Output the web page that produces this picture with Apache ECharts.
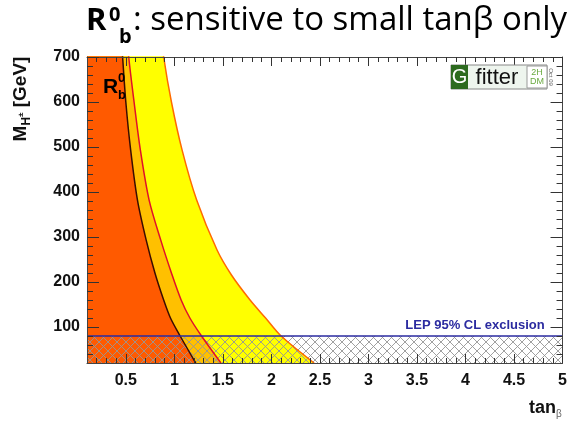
<!DOCTYPE html>
<html><head><meta charset="utf-8">
<script src="https://cdn.jsdelivr.net/npm/echarts@6/dist/echarts.min.js"></script>
<style>html,body{margin:0;padding:0;background:#fff}#c{width:570px;height:422px}</style>
</head><body><div id="c"></div>
<script>
// ---- data (tanβ, M_H± [GeV]) ----
const xRange = [0.1, 5];
const yRange = [20, 700];
const xTickLabels = [0.5, 1, 1.5, 2, 2.5, 3, 3.5, 4, 4.5, 5];
const yTickLabels = [100, 200, 300, 400, 500, 600, 700];
const lepLimit = 80;
// boundary of outer (yellow) region
const contourOuter = [[0.1,760],[0.86,760],[0.89,700],[0.97,600],[1.08,493],[1.23,382],[1.44,271],[1.59,215],[1.78,160],[1.94,120],[2.10,80],[2.44,20]];
// boundary of middle (light orange) region
const contourMid = [[0.1,760],[0.51,760],[0.53,700],[0.585,600],[0.65,493],[0.74,382],[0.86,293],[0.97,220],[1.07,160],[1.16,120],[1.28,80],[1.48,20]];
// boundary of inner (dark orange) region
const contourInner = [[0.1,760],[0.45,760],[0.467,700],[0.50,600],[0.55,493],[0.62,382],[0.71,293],[0.80,220],[0.89,160],[0.96,120],[1.06,80],[1.22,20]];

// minor ticks
const xMinor = [], yMinor = [];
for (let i = 2; i < 50; i++) { if (i % 5 !== 0) xMinor.push(i / 10); }
for (let v = 40; v < 700; v += 20) { if (v % 100 !== 0) yMinor.push(v); }

// hatch pattern
const hc = document.createElement('canvas');
hc.width = 9; hc.height = 9;
const hctx = hc.getContext('2d');
hctx.strokeStyle = 'rgba(150,150,150,0.9)';
hctx.lineWidth = 1;
hctx.beginPath();
hctx.moveTo(0,0); hctx.lineTo(9,9);
hctx.moveTo(9,0); hctx.lineTo(0,9);
hctx.stroke();

const FONT = 'Liberation Sans, Arial, sans-serif';
const axisCol = '#444';

function xAx(pos, major) {
  return {
    type: 'value', position: pos, min: xRange[0], max: xRange[1], z: 10,
    axisLine: { show: major, onZero: false, lineStyle: { color: axisCol, width: 1 } },
    axisTick: { show: true, inside: true, length: major ? 9 : 5, customValues: major ? xTickLabels : xMinor, lineStyle: { color: '#333' } },
    axisLabel: (major && pos === 'bottom') ? { show: true, customValues: xTickLabels, margin: 10, fontSize: 16, fontWeight: 'bold', color: '#111', fontFamily: FONT } : { show: false },
    splitLine: { show: false }
  };
}
function yAx(pos, major) {
  return {
    type: 'value', position: pos, min: yRange[0], max: yRange[1], z: 10,
    axisLine: { show: major, onZero: false, lineStyle: { color: axisCol, width: 1 } },
    axisTick: { show: true, inside: true, length: major ? 12 : 6, customValues: major ? yTickLabels : yMinor, lineStyle: { color: '#333' } },
    axisLabel: (major && pos === 'left') ? { show: true, customValues: yTickLabels, margin: 7, fontSize: 16, fontWeight: 'bold', color: '#111', fontFamily: FONT } : { show: false },
    splitLine: { show: false }
  };
}

// title measurement
const mc = document.createElement('canvas').getContext('2d');
const titleFont = "33px 'Open Sans'";
mc.font = titleFont;
const titleRest = ': sensitive to small tanβ only';
const wRest = mc.measureText(titleRest).width;
const restStart = 567 - wRest;

const chart = echarts.init(document.getElementById('c'), null, { renderer: 'canvas' });
chart.setOption({
  animation: false,
  backgroundColor: '#fff',
  grid: { left: 87, right: 4, top: 57, bottom: 59, containLabel: false },
  xAxis: [xAx('bottom', true), xAx('top', true), xAx('bottom', false), xAx('top', false)],
  yAxis: [yAx('left', true), yAx('right', true), yAx('left', false), yAx('right', false)],
  series: [
    { type: 'line', data: contourOuter, symbol: 'none', smooth: 0.3, clip: true,
      lineStyle: { color: '#ff6a00', width: 1.5 }, areaStyle: { color: '#ffff00', opacity: 1, origin: 'start' } },
    { type: 'line', data: contourMid, symbol: 'none', smooth: 0.3, clip: true,
      lineStyle: { color: '#e0102a', width: 1.5 }, areaStyle: { color: '#ffc000', opacity: 1, origin: 'start' } },
    { type: 'line', data: contourInner, symbol: 'none', smooth: 0.3, clip: true,
      lineStyle: { color: '#3a0c00', width: 1.5 }, areaStyle: { color: '#ff5a00', opacity: 1, origin: 'start' } },
    { type: 'line', data: [[xRange[0], lepLimit], [xRange[1], lepLimit]], symbol: 'none', clip: true,
      lineStyle: { color: '#2b2ba0', width: 1.5 }, areaStyle: { color: { image: hc, repeat: 'repeat' }, opacity: 1, origin: 'start' } }
  ],
  graphic: [
    // title
    { type: 'text', x: 567, y: 21, style: { text: titleRest, font: titleFont, fill: '#000', align: 'right', verticalAlign: 'middle' } },
    { type: 'text', x: restStart - 47, y: 21, style: { text: 'R', font: "bold 31px 'Open Sans'", fill: '#000', align: 'left', verticalAlign: 'middle' } },
    { type: 'text', x: restStart - 24, y: 15, style: { text: '0', font: "bold 20px 'Open Sans'", fill: '#000', align: 'left', verticalAlign: 'middle' } },
    { type: 'text', x: restStart - 14, y: 37, style: { text: 'b', font: "bold 20px 'Open Sans'", fill: '#000', align: 'left', verticalAlign: 'middle' } },
    // in-plot label
    { type: 'text', x: 103, y: 87, z: 20, style: { text: 'R', font: 'bold 21px ' + FONT, fill: '#000', align: 'left', verticalAlign: 'middle' } },
    { type: 'text', x: 118, y: 78, z: 20, style: { text: '0', font: 'bold 13px ' + FONT, fill: '#000', align: 'left', verticalAlign: 'middle' } },
    { type: 'text', x: 118, y: 95, z: 20, style: { text: 'b', font: 'bold 13px ' + FONT, fill: '#000', align: 'left', verticalAlign: 'middle' } },
    // LEP label
    { type: 'text', x: 475, y: 325, z: 20, style: { text: 'LEP 95% CL exclusion', font: 'bold 13px ' + FONT, fill: '#2b2ba0', align: 'center', verticalAlign: 'middle' } },
    // logo
    { type: 'rect', z: 20, shape: { x: 451, y: 65, width: 96, height: 24 }, style: { fill: '#eef5ee', stroke: '#888', lineWidth: 1 } },
    { type: 'rect', z: 21, shape: { x: 451, y: 65, width: 17, height: 24 }, style: { fill: '#2d6a1f' } },
    { type: 'text', z: 22, x: 459.5, y: 77.5, style: { text: 'G', font: '20px ' + FONT, fill: '#fff', align: 'center', verticalAlign: 'middle' } },
    { type: 'text', z: 22, x: 497, y: 77.5, style: { text: 'fitter', font: '22px ' + FONT, fill: '#111', align: 'center', verticalAlign: 'middle' } },
    { type: 'rect', z: 21, shape: { x: 527, y: 66, width: 20, height: 22 }, style: { fill: '#fff', stroke: '#999', lineWidth: 1 } },
    { type: 'text', z: 22, x: 537, y: 72.5, style: { text: '2H', font: '9px ' + FONT, fill: '#6aaa40', align: 'center', verticalAlign: 'middle' } },
    { type: 'text', z: 22, x: 537, y: 82, style: { text: 'DM', font: '9px ' + FONT, fill: '#6aaa40', align: 'center', verticalAlign: 'middle' } },
    { type: 'text', z: 22, x: 551, y: 77, rotation: -Math.PI / 2, style: { text: 'Oct 09', font: '6px ' + FONT, fill: '#666', align: 'center', verticalAlign: 'middle' } },
    // y axis title
    { type: 'text', x: 21, y: 99, rotation: Math.PI / 2, style: {
        text: '{b|M}{s|H}{p|±}{b| [GeV]}', align: 'center', verticalAlign: 'middle',
        rich: {
          b: { fontSize: 19, fontWeight: 'bold', fontFamily: FONT, fill: '#111', lineHeight: 24 },
          s: { fontSize: 12, fontWeight: 'bold', fontFamily: FONT, fill: '#111', lineHeight: 24, verticalAlign: 'bottom' },
          p: { fontSize: 8, fontWeight: 'bold', fontFamily: FONT, fill: '#111', lineHeight: 24, verticalAlign: 'middle' }
        } } },
    // x axis title
    { type: 'text', x: 529, y: 408, style: {
        text: '{b|tan}{s|β}', align: 'left', verticalAlign: 'middle',
        rich: {
          b: { fontSize: 18, fontWeight: 'bold', fontFamily: FONT, fill: '#111', lineHeight: 22 },
          s: { fontSize: 10, fontFamily: FONT, fill: '#666', lineHeight: 22, verticalAlign: 'bottom' }
        } } }
  ]
});
</script>
</body></html>
